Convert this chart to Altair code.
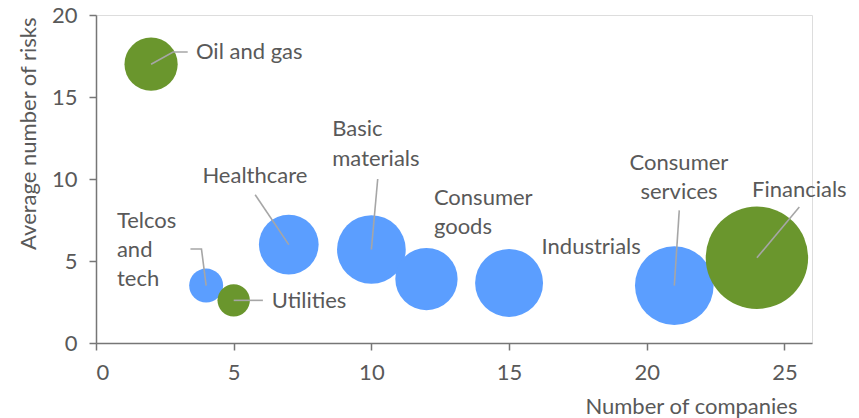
import altair as alt
import pandas as pd

# ---- data ----
sectors = ["Oil and gas", "Telcos and tech", "Utilities", "Healthcare",
           "Basic materials", "Consumer goods", "Industrials",
           "Consumer services", "Financials"]
companies = [2, 4, 5, 7, 10, 12, 15, 21, 24]
avg_risks = [17, 3.5, 2.6, 6, 5.7, 3.9, 3.66, 3.5, 5.2]
bubble_size = [27, 11, 10, 34, 45, 37, 44, 59, 100]
group = ["A", "B", "A", "B", "B", "B", "B", "B", "A"]

# data labels (one row per text line), in data coordinates
label_text = ["Oil and gas", "Healthcare", "Telcos", "and", "tech", "Utilities",
              "Basic", "materials", "Consumer", "goods", "Industrials",
              "Consumer", "services", "Financials"]
label_x = [3.63, 5.77, 0.76, 0.76, 0.76, 6.38, 8.58, 8.58, 12.27, 12.27,
           16.18, 21.17, 21.17, 25.54]
label_y = [17.74, 10.16, 7.42, 5.69, 3.9, 2.58, 13.05, 11.22, 8.84, 7.05,
           5.83, 10.98, 9.19, 9.35]
label_align = ["left", "center", "left", "left", "left", "left", "left", "left",
               "left", "left", "left", "center", "center", "center"]

# leader lines
leader_id = [0, 0, 0, 1, 1, 2, 2, 2, 3, 3, 4, 4, 5, 5, 6, 6]
leader_x = [2, 2.80, 3.33, 7.0, 5.78, 4.0, 3.83, 3.43, 5.0, 6.06,
            10.0, 10.23, 21.0, 21.18, 24.0, 25.54]
leader_y = [17, 17.74, 17.74, 6.0, 9.04, 3.5, 5.73, 5.73, 2.6, 2.6,
            5.7, 10.0, 3.5, 8.09, 5.2, 8.29]

x_ticks = [0, 5, 10, 15, 20, 25]
y_ticks = [0, 5, 10, 15, 20]

bubbles = pd.DataFrame({"sector": sectors, "companies": companies,
                        "risks": avg_risks, "size": bubble_size, "group": group})
labels = pd.DataFrame({"text": label_text, "x": label_x, "y": label_y,
                       "align": label_align})
leaders = pd.DataFrame({"id": leader_id, "x": leader_x, "y": leader_y,
                        "order": list(range(len(leader_id)))})

TEXT = "#595959"
AXIS = "#767676"
FONT = "Lato"

xscale = alt.Scale(domain=[0, 26], nice=False, zero=False)
yscale = alt.Scale(domain=[0, 20], nice=False, zero=False)

xaxis = alt.Axis(values=x_ticks, grid=False, title="Number of companies",
                 titleAlign="right", titleAnchor="end", titleX=701, titleY=63,
                 titleBaseline="middle", titleFontWeight="normal",
                 titleFontSize=22, titleColor=TEXT, titleFont=FONT,
                 labelFontSize=22, labelColor=TEXT, labelFont=FONT,
                 labelPadding=12, tickSize=7, tickColor=AXIS, tickWidth=1.5,
                 domainColor=AXIS, domainWidth=1.5)
yaxis = alt.Axis(values=y_ticks, grid=False, title="Average number of risks",
                 titleAlign="right", titleAnchor="end", titleX=-68, titleY=2,
                 titleBaseline="middle", titleFontWeight="normal",
                 titleFontSize=22, titleColor=TEXT, titleFont=FONT,
                 labelFontSize=22, labelColor=TEXT, labelFont=FONT,
                 labelPadding=12, tickSize=7, tickColor=AXIS, tickWidth=1.5,
                 domainColor=AXIS, domainWidth=1.5)

points = alt.Chart(bubbles).mark_circle(opacity=1, strokeWidth=0).encode(
    x=alt.X("companies:Q", scale=xscale, axis=xaxis),
    y=alt.Y("risks:Q", scale=yscale, axis=yaxis),
    size=alt.Size("size:Q", scale=alt.Scale(domain=[0, 100], range=[0, 10486]),
                  legend=None),
    color=alt.Color("group:N", scale=alt.Scale(domain=["A", "B"],
                                               range=["#6A962D", "#5B9EFF"]),
                    legend=None),
    order=alt.Order("companies:Q"),
)

lines = alt.Chart(leaders).mark_line(color="#A6A6A6", strokeWidth=1.6).encode(
    x=alt.X("x:Q", scale=xscale),
    y=alt.Y("y:Q", scale=yscale),
    detail="id:N",
    order="order:Q",
)

text_left = alt.Chart(labels).transform_filter(
    alt.datum.align == "left"
).mark_text(align="left", baseline="middle", font=FONT, fontSize=22,
            color=TEXT).encode(
    x=alt.X("x:Q", scale=xscale),
    y=alt.Y("y:Q", scale=yscale),
    text="text:N",
)
text_center = alt.Chart(labels).transform_filter(
    alt.datum.align == "center"
).mark_text(align="center", baseline="middle", font=FONT, fontSize=22,
            color=TEXT).encode(
    x=alt.X("x:Q", scale=xscale),
    y=alt.Y("y:Q", scale=yscale),
    text="text:N",
)

chart = alt.layer(points, lines, text_left, text_center).properties(
    width=716, height=328,
    autosize=alt.AutoSizeParams(type="none"),
    padding={"left": 96, "top": 15, "right": 47, "bottom": 75},
).configure_view(stroke=None).configure(background="white")

chart.save("out.html", embed_options={"renderer": "svg", "actions": False})
